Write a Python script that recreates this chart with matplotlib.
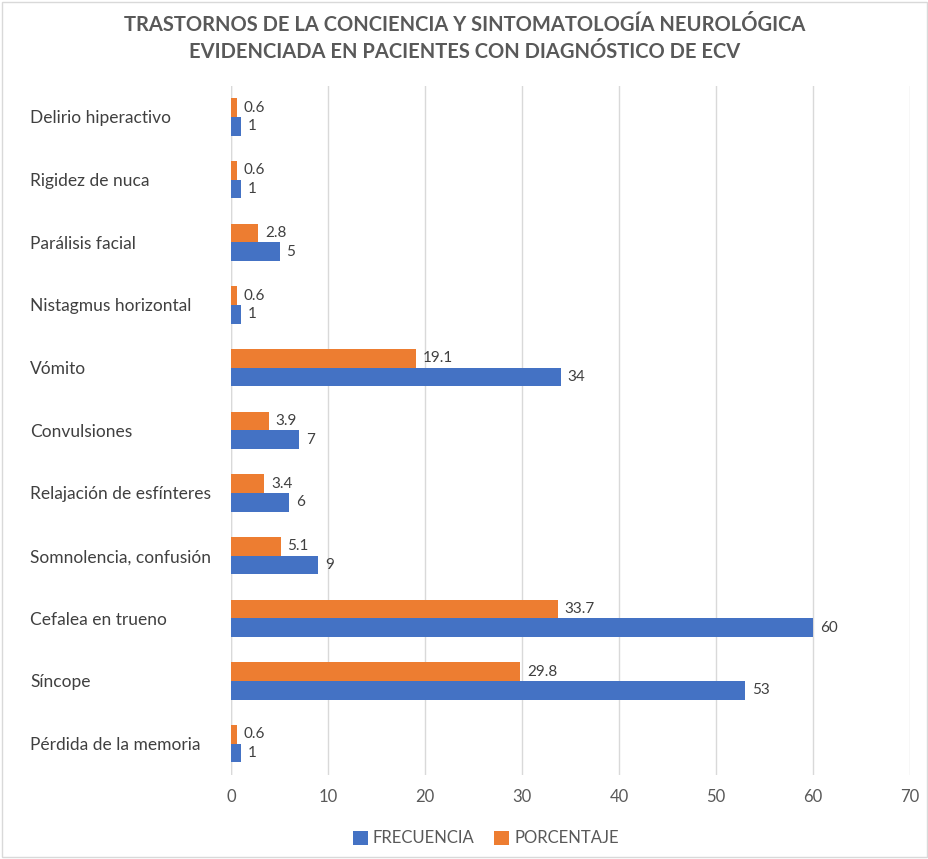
import matplotlib
matplotlib.use("Agg")
import matplotlib.pyplot as plt
import numpy as np

categories = ["Delirio hiperactivo", "Rigidez de nuca", "Parálisis facial", "Nistagmus horizontal",
              "Vómito", "Convulsiones", "Relajación de esfínteres", "Somnolencia, confusión",
              "Cefalea en trueno", "Síncope", "Pérdida de la memoria"]
frecuencia = [1, 1, 5, 1, 34, 7, 6, 9, 60, 53, 1]
porcentaje = [0.6, 0.6, 2.8, 0.6, 19.1, 3.9, 3.4, 5.1, 33.7, 29.8, 0.6]
xticks = [0, 10, 20, 30, 40, 50, 60, 70]

plt.rcParams['font.family'] = ['Lato', 'DejaVu Sans']

fig = plt.figure(figsize=(9.29, 8.59), dpi=100)
ax = fig.add_axes([0.2487, 0.0978, 0.7308, 0.8025])

y = np.arange(len(categories))
h = 0.3
blue = "#4472C4"
orange = "#ED7D31"
b1 = ax.barh(y + h / 2, frecuencia, height=h, color=blue, label="FRECUENCIA", zorder=3)
b2 = ax.barh(y - h / 2, porcentaje, height=h, color=orange, label="PORCENTAJE", zorder=3)

for bars, vals in ((b1, frecuencia), (b2, porcentaje)):
    for bar, v in zip(bars, vals):
        ax.annotate(f"{v:g}", xy=(bar.get_width(), bar.get_y() + bar.get_height() / 2),
                    xytext=(5, 0), textcoords="offset points", va="center", ha="left",
                    fontsize=11, color="#404040")

ax.set_xlim(0, 70)
ax.set_ylim(len(categories) - 0.5, -0.5)
ax.set_yticks(y)
ax.set_yticklabels(categories, fontsize=12.5, color="#404040", ha="left")
ax.set_xticks(xticks)
ax.set_xticklabels([str(t) for t in xticks], fontsize=12, color="#595959")
ax.tick_params(axis="y", length=0, pad=201 * 0.72)
ax.tick_params(axis="x", length=0, pad=10)
ax.grid(axis="x", color="#D9D9D9", linewidth=1, zorder=0)
for s in ax.spines.values():
    s.set_visible(False)
ax.axvline(0, color="#D9D9D9", linewidth=1, zorder=1)

fig.text(0.5, 0.971, "TRASTORNOS DE LA CONCIENCIA Y SINTOMATOLOGÍA NEUROLÓGICA",
         ha="center", va="center", fontsize=14.5, fontweight="bold", color="#595959")
fig.text(0.5, 0.94, "EVIDENCIADA EN PACIENTES CON DIAGNÓSTICO DE ECV",
         ha="center", va="center", fontsize=14.5, fontweight="bold", color="#595959")

handles = [b1, b2]
leg = fig.legend(handles, ["FRECUENCIA", "PORCENTAJE"], loc="center", bbox_to_anchor=(0.523, 0.024),
                 ncol=2, frameon=False, fontsize=12, handlelength=0.9, handleheight=0.9,
                 columnspacing=1.2, handletextpad=0.3)
for t in leg.get_texts():
    t.set_color("#595959")

border = plt.Rectangle((0.002, 0.002), 0.996, 0.996, transform=fig.transFigure, fill=False,
                       edgecolor="#D9D9D9", linewidth=1)
fig.add_artist(border)

fig.savefig("out.png", dpi=100, facecolor="white")
